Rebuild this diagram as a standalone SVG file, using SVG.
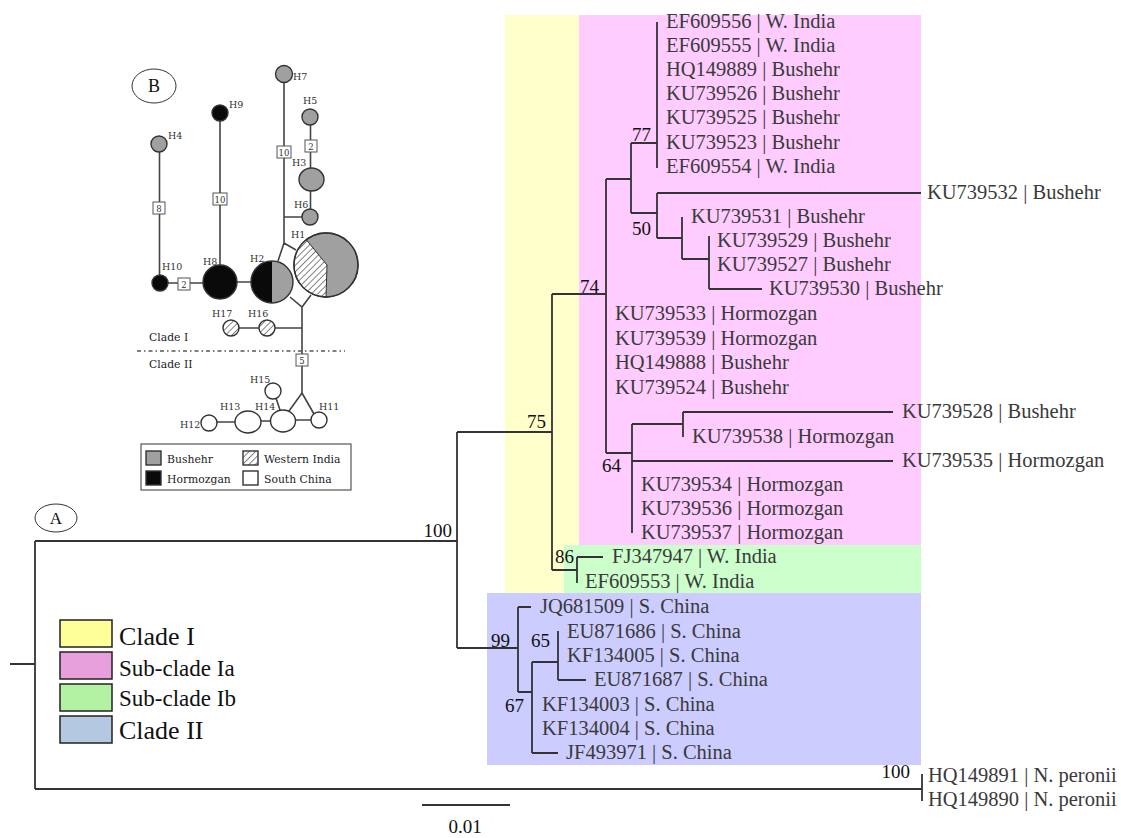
<svg xmlns="http://www.w3.org/2000/svg" width="1121" height="838" viewBox="0 0 1121 838">
<style>
.br{fill:none;stroke:#333;stroke-width:1.8}
.lf{font-family:"Liberation Serif",serif;font-size:20.5px;fill:#3a3a3a}
.bs{font-family:"Liberation Serif",serif;font-size:19px;fill:#111}
.lg{font-family:"Liberation Serif",serif;fill:#111}
.nl{fill:none;stroke:#444;stroke-width:1.6}
.nd{stroke:#333;stroke-width:1.4}
.gr{fill:#a0a0a0}
.bk{fill:#0a0a0a}
.wh{fill:#fff}
.ht{fill:url(#hatch)}
.hl{font-family:"DejaVu Serif",serif;font-size:9.5px;fill:#333}
.bx{fill:#fff;stroke:#555;stroke-width:1}
.bt{font-family:"DejaVu Serif",serif;font-size:8.5px;fill:#333;text-anchor:middle}
.nt{font-family:"DejaVu Serif",serif;font-size:10.8px;fill:#222}
</style>
<defs>
<pattern id="hatch" width="4.5" height="4.5" patternUnits="userSpaceOnUse" patternTransform="rotate(45)">
<rect width="4.5" height="4.5" fill="#fff"/>
<line x1="0" y1="0" x2="0" y2="4.5" stroke="#444" stroke-width="1.3"/>
</pattern>
</defs>
<rect width="1121" height="838" fill="#fff"/>

<g id="clade-backgrounds">
<rect x="505" y="15" width="75" height="578" fill="#FFFFCC"/>
<rect x="579" y="15" width="342" height="530" fill="#FFCCFF"/>
<rect x="564" y="545" width="357" height="48" fill="#CCFFCC"/>
<rect x="487" y="593" width="434" height="172" fill="#CCCCFF"/>
</g>

<g id="connectors">
<path class="br" d="M10 664H35M35 541V789M35 541H457M35 789H922M922 774V801"/>
<path class="br" d="M457 432V648M457 432H552M457 648H518"/>
<path class="br" d="M552 294V570M552 294H606M552 570H577"/>
<path class="br" d="M577 557V583M577 557H603"/>
<path class="br" d="M606 179V453M606 179H631M606 453H632"/>
<path class="br" d="M631 143V213M631 143H657M631 213H657"/>
<path class="br" d="M657 22V168"/>
<path class="br" d="M657 193V238M657 193H921M657 238H682"/>
<path class="br" d="M682 217V259M682 259H709"/>
<path class="br" d="M709 236V289M709 289H762"/>
<path class="br" d="M632 424V533M632 424H683M632 461H893"/>
<path class="br" d="M683 412V437M683 412H893"/>
<path class="br" d="M518 607V692M518 607H531M518 692H532"/>
<path class="br" d="M532 662V753M532 662H558M532 753H558"/>
<path class="br" d="M558 631V680M558 680H586"/>
<path class="br" d="M422 805H510"/>
</g>

<g id="leaves">
<text class="lf" x="666" y="28">EF609556 | W. India</text>
<text class="lf" x="666" y="52">EF609555 | W. India</text>
<text class="lf" x="666" y="76">HQ149889 | Bushehr</text>
<text class="lf" x="666" y="100">KU739526 | Bushehr</text>
<text class="lf" x="666" y="124">KU739525 | Bushehr</text>
<text class="lf" x="666" y="149">KU739523 | Bushehr</text>
<text class="lf" x="666" y="173">EF609554 | W. India</text>
<text class="lf" x="927" y="199">KU739532 | Bushehr</text>
<text class="lf" x="691" y="223">KU739531 | Bushehr</text>
<text class="lf" x="717" y="247">KU739529 | Bushehr</text>
<text class="lf" x="717" y="271">KU739527 | Bushehr</text>
<text class="lf" x="769" y="295">KU739530 | Bushehr</text>
<text class="lf" x="615" y="320">KU739533 | Hormozgan</text>
<text class="lf" x="615" y="345">KU739539 | Hormozgan</text>
<text class="lf" x="615" y="369">HQ149888 | Bushehr</text>
<text class="lf" x="615" y="394">KU739524 | Bushehr</text>
<text class="lf" x="902" y="418">KU739528 | Bushehr</text>
<text class="lf" x="692" y="443">KU739538 | Hormozgan</text>
<text class="lf" x="902" y="467">KU739535 | Hormozgan</text>
<text class="lf" x="641" y="491">KU739534 | Hormozgan</text>
<text class="lf" x="641" y="515">KU739536 | Hormozgan</text>
<text class="lf" x="641" y="539">KU739537 | Hormozgan</text>
<text class="lf" x="612" y="563">FJ347947 | W. India</text>
<text class="lf" x="585" y="588">EF609553 | W. India</text>
<text class="lf" x="540" y="613">JQ681509 | S. China</text>
<text class="lf" x="567" y="638">EU871686 | S. China</text>
<text class="lf" x="567" y="662">KF134005 | S. China</text>
<text class="lf" x="594" y="686">EU871687 | S. China</text>
<text class="lf" x="542" y="711">KF134003 | S. China</text>
<text class="lf" x="542" y="735">KF134004 | S. China</text>
<text class="lf" x="566" y="759">JF493971 | S. China</text>
<text class="lf" x="928" y="782">HQ149891 | N. peronii</text>
<text class="lf" x="928" y="806">HQ149890 | N. peronii</text>
</g>

<g id="support-values">
<text class="bs" x="632" y="141">77</text>
<text class="bs" x="632" y="235">50</text>
<text class="bs" x="580" y="293">74</text>
<text class="bs" x="527" y="428">75</text>
<text class="bs" x="452" y="537" text-anchor="end">100</text>
<text class="bs" x="602" y="472">64</text>
<text class="bs" x="555" y="563">86</text>
<text class="bs" x="491" y="647">99</text>
<text class="bs" x="531" y="647">65</text>
<text class="bs" x="505" y="712">67</text>
<text class="bs" x="910" y="778" text-anchor="end">100</text>
<text class="bs" x="465" y="833" text-anchor="middle">0.01</text>
</g>

<g id="label-A">
<ellipse cx="56" cy="518" rx="21" ry="14" fill="#fff" stroke="#333" stroke-width="1"/>
<text class="lg" x="56" y="524" font-size="17" text-anchor="middle">A</text>
</g>

<g id="clade-legend">
<rect x="60" y="620" width="52" height="27" fill="#FFFF99" stroke="#222" stroke-width="1.5"/>
<rect x="60" y="652" width="52" height="27" fill="#E8A0DC" stroke="#222" stroke-width="1.5"/>
<rect x="60" y="684" width="52" height="27" fill="#B2F2A2" stroke="#222" stroke-width="1.5"/>
<rect x="60" y="716" width="52" height="27" fill="#B4C8E2" stroke="#222" stroke-width="1.5"/>
<text class="lg" x="119" y="645" font-size="26">Clade I</text>
<text class="lg" x="119" y="676" font-size="23">Sub-clade Ia</text>
<text class="lg" x="119" y="706" font-size="23">Sub-clade Ib</text>
<text class="lg" x="119" y="739" font-size="26">Clade II</text>
</g>

<g id="network-B">
<ellipse cx="154" cy="86" rx="22" ry="17" fill="#fff" stroke="#333" stroke-width="1"/>
<text class="lg" x="154" y="92" font-size="18" text-anchor="middle">B</text>

<g id="network-edges">
<path class="nl" d="M159.5 152V275M220 121V265M168 283H203M237 282H251M284 82V243M284 217H302M310.5 191V209M310.5 125V168"/>
<path class="nl" d="M284 243L278 261M284 243L296 250M290 297L302 307L311 295M302 307V393M275 328H302M239 328H259"/>
<path class="nl" d="M302 393L289 411M302 393L314 414M295 420H311M276 398L280 410M261 421H271M217 422H235"/>
<line x1="137" y1="351" x2="345" y2="351" stroke="#555" stroke-width="1.3" stroke-dasharray="4 3 1.5 3"/>
</g>

<g id="mutation-boxes">
<rect class="bx" x="153" y="202" width="12" height="12"/><text class="bt" x="159" y="211.5">8</text>
<rect class="bx" x="213" y="193" width="14" height="12"/><text class="bt" x="220" y="202.5">10</text>
<rect class="bx" x="277" y="146" width="14" height="12"/><text class="bt" x="284" y="155.5">10</text>
<rect class="bx" x="305" y="140" width="12" height="12"/><text class="bt" x="311" y="149.5">2</text>
<rect class="bx" x="178" y="278" width="12" height="12"/><text class="bt" x="184" y="287.5">2</text>
<rect class="bx" x="296" y="354" width="12" height="12"/><text class="bt" x="302" y="363.5">5</text>
</g>

<g id="H1"><circle class="nd gr" cx="326" cy="265" r="32"/>
<path class="ht" d="M306.3 239.8L327 265L326 297A32 32 0 0 1 306.3 239.8Z" stroke="#333" stroke-width="1"/>
<circle cx="326" cy="265" r="32" fill="none" stroke="#333" stroke-width="1.4"/>
<text class="hl" x="291" y="238">H1</text></g>
<g id="H2"><path class="bk" d="M272 261A21 21 0 0 0 272 303Z"/><path class="gr" d="M272 261A21 21 0 0 1 272 303Z"/>
<circle cx="272" cy="282" r="21" fill="none" stroke="#333" stroke-width="1.4"/>
<text class="hl" x="250" y="262">H2</text></g>
<g id="H3"><ellipse class="nd gr" cx="311.5" cy="179.5" rx="12.5" ry="11.5"/><text class="hl" x="292" y="166">H3</text></g>
<g id="H4"><circle class="nd gr" cx="159" cy="144" r="8"/><text class="hl" x="168" y="139">H4</text></g>
<g id="H5"><circle class="nd gr" cx="310" cy="117" r="8"/><text class="hl" x="303" y="104">H5</text></g>
<g id="H6"><circle class="nd gr" cx="310" cy="217" r="8"/><text class="hl" x="294" y="208">H6</text></g>
<g id="H7"><circle class="nd gr" cx="284" cy="74" r="8.5"/><text class="hl" x="293" y="80">H7</text></g>
<g id="H8"><circle class="nd bk" cx="220" cy="282" r="17"/><text class="hl" x="203" y="265">H8</text></g>
<g id="H9"><circle class="nd bk" cx="220" cy="113" r="8"/><text class="hl" x="229" y="108">H9</text></g>
<g id="H10"><circle class="nd bk" cx="160" cy="283" r="8"/><text class="hl" x="162" y="270">H10</text></g>
<g id="H11"><circle class="nd wh" cx="319" cy="420" r="8"/><text class="hl" x="319" y="410">H11</text></g>
<g id="H12"><circle class="nd wh" cx="209" cy="423" r="8"/><text class="hl" x="180" y="428">H12</text></g>
<g id="H13"><ellipse class="nd wh" cx="248" cy="422" rx="13" ry="11"/><text class="hl" x="220" y="410">H13</text></g>
<g id="H14"><ellipse class="nd wh" cx="283" cy="421" rx="12.5" ry="11"/><text class="hl" x="255" y="410">H14</text></g>
<g id="H15"><circle class="nd wh" cx="273" cy="391" r="8"/><text class="hl" x="250" y="383">H15</text></g>
<g id="H16"><circle class="nd ht" cx="267" cy="328" r="8"/><text class="hl" x="248" y="317">H16</text></g>
<g id="H17"><circle class="nd ht" cx="231" cy="328" r="8"/><text class="hl" x="212" y="317">H17</text></g>

<text class="nt" x="149" y="341">Clade I</text>
<text class="nt" x="149" y="368">Clade II</text>

<g id="network-legend">
<rect x="141" y="444" width="210" height="46" fill="#fff" stroke="#555" stroke-width="1.2"/>
<rect class="nd gr" x="146" y="451" width="15" height="14" stroke-width="1"/>
<rect class="nd ht" x="243" y="451" width="15" height="14" stroke-width="1"/>
<rect class="nd bk" x="146" y="471" width="15" height="14" stroke-width="1"/>
<rect class="nd wh" x="243" y="471" width="15" height="14" stroke-width="1"/>
<text class="nt" x="167" y="463">Bushehr</text>
<text class="nt" x="264" y="463">Western India</text>
<text class="nt" x="167" y="483">Hormozgan</text>
<text class="nt" x="264" y="483">South China</text>
</g>
</g>
</svg>
